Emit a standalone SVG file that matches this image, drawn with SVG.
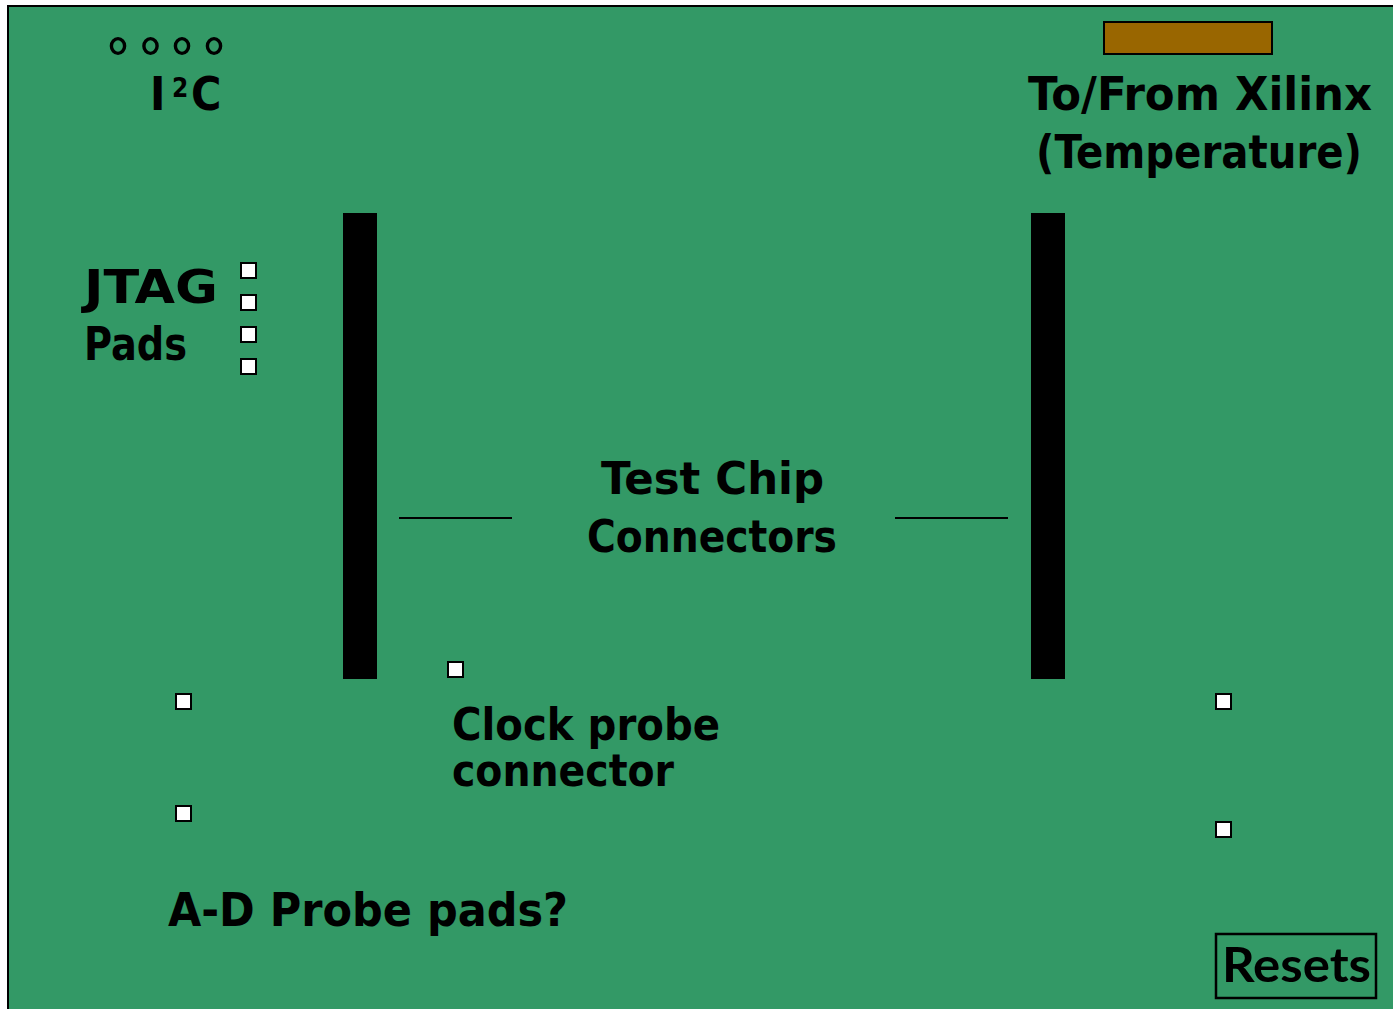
<svg xmlns="http://www.w3.org/2000/svg" width="1393" height="1009" viewBox="0 0 1393 1009">
  <style>
    .lbl { font-family: "DejaVu Sans Condensed", "DejaVu Sans", sans-serif; font-weight: bold; font-stretch: condensed; fill: #000; }
    .pad { fill: #fff; stroke: #000; stroke-width: 2; }
    .bar { fill: #000; }
    .via { fill: none; stroke: #000; stroke-width: 3.4; }
    .conn { stroke: #000; stroke-width: 2; fill: none; }
  </style>
  <rect width="1393" height="1009" fill="#ffffff"/>
  <g id="board">
    <rect x="8" y="6" width="1400" height="1020" fill="#339966" stroke="#000" stroke-width="2"/>
  </g>
  <g id="i2c">
    <ellipse class="via" cx="118" cy="46" rx="6.6" ry="7.4"/>
    <ellipse class="via" cx="150.5" cy="46" rx="6.6" ry="7.4"/>
    <ellipse class="via" cx="182" cy="46" rx="6.6" ry="7.4"/>
    <ellipse class="via" cx="214" cy="46" rx="6.6" ry="7.4"/>
    <text class="lbl" font-size="46"><tspan x="150" y="110">I</tspan><tspan x="172" y="97" font-size="26">2</tspan><tspan x="191" y="110">C</tspan></text>
  </g>
  <g id="xilinx">
    <rect x="1104" y="22" width="168" height="32" fill="#996600" stroke="#000" stroke-width="2"/>
    <text class="lbl" x="1028" y="110" font-size="46" textLength="344" lengthAdjust="spacingAndGlyphs">To/From Xilinx</text>
    <text class="lbl" x="1036" y="168" font-size="46" textLength="326" lengthAdjust="spacingAndGlyphs">(Temperature)</text>
  </g>
  <g id="jtag">
    <text class="lbl" x="84" y="303" font-size="46" textLength="134" lengthAdjust="spacingAndGlyphs">JTAG</text>
    <text class="lbl" x="84" y="360" font-size="46" textLength="103" lengthAdjust="spacingAndGlyphs">Pads</text>
    <rect class="pad" x="241" y="263" width="15" height="15"/>
    <rect class="pad" x="241" y="295" width="15" height="15"/>
    <rect class="pad" x="241" y="327" width="15" height="15"/>
    <rect class="pad" x="241" y="359" width="15" height="15"/>
  </g>
  <g id="left-connector">
    <rect class="bar" x="343" y="213" width="34" height="466"/>
  </g>
  <g id="right-connector">
    <rect class="bar" x="1031" y="213" width="34" height="466"/>
  </g>
  <g id="test-chip-label">
    <text class="lbl" font-size="45"><tspan x="601" y="494" textLength="223" lengthAdjust="spacingAndGlyphs">Test Chip</tspan><tspan x="587" y="552" textLength="250" lengthAdjust="spacingAndGlyphs">Connectors</tspan></text>
  </g>
  <g id="connectors">
    <line class="conn" x1="399" y1="518" x2="512" y2="518"/>
    <line class="conn" x1="895" y1="518" x2="1008" y2="518"/>
  </g>
  <g id="clock-probe">
    <rect class="pad" x="448" y="662" width="15" height="15"/>
    <text class="lbl" font-size="45"><tspan x="452" y="740" textLength="268" lengthAdjust="spacingAndGlyphs">Clock probe</tspan><tspan x="452" y="786" textLength="222" lengthAdjust="spacingAndGlyphs">connector</tspan></text>
  </g>
  <g id="ad-probe-pads">
    <rect class="pad" x="176" y="694" width="15" height="15"/>
    <rect class="pad" x="176" y="806" width="15" height="15"/>
    <text class="lbl" x="168" y="926" font-size="46" textLength="400" lengthAdjust="spacingAndGlyphs">A-D Probe pads?</text>
  </g>
  <g id="reset-pads">
    <rect class="pad" x="1216" y="694" width="15" height="15"/>
    <rect class="pad" x="1216" y="822" width="15" height="15"/>
  </g>
  <g id="resets">
    <rect x="1216" y="934" width="160" height="64" fill="none" stroke="#000" stroke-width="2.5"/>
    <text x="1222" y="982" font-family="Lato, 'Open Sans', sans-serif" font-weight="bold" font-size="47" textLength="149" lengthAdjust="spacingAndGlyphs">Resets</text>
  </g>
</svg>
